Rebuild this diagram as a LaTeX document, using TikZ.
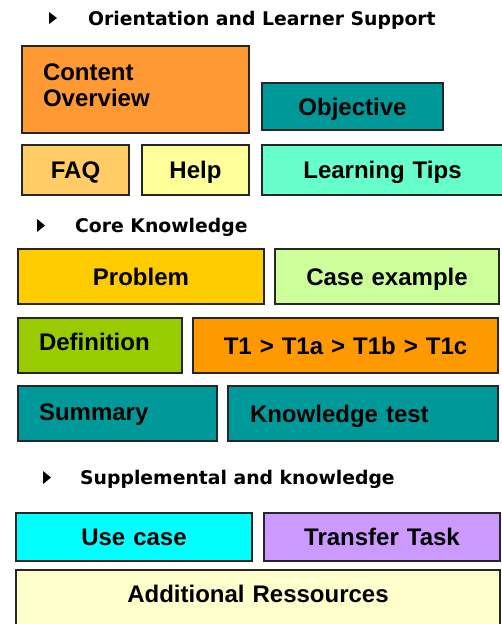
\documentclass[tikz,border=0pt]{standalone}
\usepackage{fontspec}
\usepackage{xcolor}
\usepackage{tikz}
\usetikzlibrary{positioning}

\newfontfamily\boxfont{Liberation Sans}
\newfontfamily\headfont{DejaVu Sans}

\definecolor{overview}{HTML}{FF9933}
\definecolor{teal}{HTML}{009999}
\definecolor{faqc}{HTML}{FFCC66}
\definecolor{helpc}{HTML}{FFFF99}
\definecolor{tipsc}{HTML}{66FFCC}
\definecolor{problemc}{HTML}{FFCC00}
\definecolor{casec}{HTML}{CCFF99}
\definecolor{defc}{HTML}{99CC00}
\definecolor{stepsc}{HTML}{FF9900}
\definecolor{usec}{HTML}{00FFFF}
\definecolor{transferc}{HTML}{CC99FF}
\definecolor{resc}{HTML}{FFFFCC}

\begin{document}
\begin{tikzpicture}[x=1pt, y=-1pt, node distance=11pt,
  box/.style={draw=black!85, line width=1.5pt, inner sep=0pt, outer sep=0pt, minimum height=55pt,
    text height=17.2pt, text depth=0pt, align=center,
    font=\boxfont\fontsize{24}{26.7}\selectfont\bfseries},
  lbox/.style={box, align=left, inner xsep=21pt},
  head/.style={anchor=base west, inner sep=0pt,
    font=\headfont\fontsize{18.8}{22}\selectfont\bfseries}]
\fill[white] (0,0) rectangle (501,624);
\useasboundingbox (0,0) rectangle (501,624);

% Orientation
\fill (49,12) -- (57,18) -- (49,24) -- cycle;
\node[head] (h1) at (88,25) {Orientation and Learner Support};
\node[lbox, fill=overview, anchor=north west, text width=185pt, minimum height=87pt,
  text height=17.2pt, text depth=35.7pt] (co) at (22,46) {Content\\Overview};
\node[box, fill=teal, anchor=north west, text width=181pt, minimum height=47pt] (obj) at (262,83) {Objective};
\node[box, fill=faqc, anchor=north west, text width=107pt, minimum height=50pt] (faq) at (22,145) {FAQ};
\node[box, fill=helpc, text width=107pt, minimum height=50pt, right=13pt of faq] (help) {Help};
\node[box, fill=tipsc, text width=241pt, minimum height=50pt, right=13pt of help] (tips) {Learning Tips};

% Core
\fill (37,219) -- (45,225.5) -- (37,232) -- cycle;
\node[head] (h2) at (75,232) {Core Knowledge};
\node[box, fill=problemc, anchor=north west, text width=246pt] (prob) at (18,249) {Problem};
\node[box, fill=casec, text width=224pt, right=of prob] (case) {Case example};
\node[lbox, fill=defc, anchor=north west, text width=122pt, text depth=7.6pt] (defn) at (18,318) {Definition};
\node[box, fill=stepsc, text width=305pt, right=of defn] (steps) {T1 > T1a > T1b > T1c};
\node[lbox, fill=teal, anchor=north west, text width=157pt, text depth=3.6pt] (summ) at (18,386) {Summary};
\node[lbox, fill=teal, inner xsep=22pt, text width=226pt, right=of summ] (ktest) {Knowledge test};

% Supplemental
\fill (43,471) -- (51,477.5) -- (43,484) -- cycle;
\node[head] (h3) at (80,484) {Supplemental and knowledge};
\node[box, fill=usec, anchor=north west, text width=236pt, minimum height=48pt] (use) at (16,513) {Use case};
\node[box, fill=transferc, text width=236pt, minimum height=48pt, right=12pt of use] (transfer) {Transfer Task};
\node[box, fill=resc, anchor=north west, text width=484pt, inner ysep=15.4pt,
  text depth=40pt] (res) at (16,570) {Additional Ressources};
\end{tikzpicture}
\end{document}
